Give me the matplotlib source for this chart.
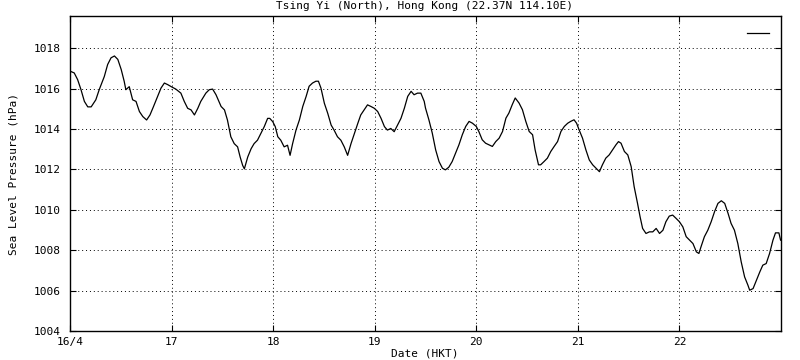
import matplotlib
matplotlib.use("Agg")
import matplotlib.pyplot as plt
import numpy as np

# hours since 16/4 00:00 HKT
hours = [0.0, 1.0, 1.8, 2.6, 3.4, 4.2, 5.0, 6.1, 6.9, 8.1, 8.9, 9.7, 10.5, 11.3, 12.1, 12.8,
         13.2, 14.0, 14.8, 15.6, 16.4, 17.2, 18.1, 18.9, 19.7, 20.7, 21.5, 22.3, 23.1, 24.1,
         25.0, 26.2, 27.0, 27.8, 28.6, 29.4, 30.2, 30.9, 32.1, 32.9, 33.7, 34.5, 35.7, 36.5,
         37.2, 38.0, 38.8, 39.6, 40.2, 40.8, 41.2, 42.0, 42.8, 43.5, 44.3, 45.1, 45.9, 46.7,
         47.2, 47.9, 48.5, 49.1, 49.8, 50.6, 51.4, 52.0, 52.6, 53.4, 54.2, 55.0, 55.8, 56.5,
         57.3, 58.1, 58.7, 59.3, 60.1, 60.9, 61.7, 62.4, 63.2, 64.0, 64.8, 65.6, 66.4, 67.2,
         68.0, 68.7, 69.5, 70.3, 71.1, 71.9, 72.7, 73.5, 74.3, 75.0, 75.8, 76.6, 77.4, 78.2,
         79.0, 79.8, 80.6, 81.3, 82.1, 82.9, 83.7,
         84.0, 84.8, 85.6, 86.4, 87.2, 88.0, 88.7, 89.5, 90.3, 91.1, 91.9, 92.7, 93.5, 94.3,
         95.1, 96.0, 96.6, 97.4, 98.2, 99.0, 99.8, 100.6, 101.4, 102.2, 103.0, 103.7, 104.5,
         105.2, 106.1, 106.9, 107.7, 108.5, 109.3, 109.9, 110.7, 111.2, 112.0, 112.8, 113.6,
         114.4, 115.2, 116.0, 116.8, 117.6, 118.3, 119.1, 119.7, 120.3, 121.1, 121.9, 122.7,
         123.5, 124.3, 125.1, 125.8, 126.6, 127.4, 128.2, 129.0, 129.6, 130.2, 131.0, 131.8,
         132.6, 133.3, 134.1, 134.7, 135.3, 136.1, 136.9, 137.7, 138.5, 139.3, 140.1, 140.8,
         141.6, 142.4, 143.2, 144.0, 144.8, 145.6, 146.4, 147.2, 148.0, 148.6, 149.1, 149.9,
         150.7, 151.5, 152.3, 153.1, 153.9, 154.7, 155.5, 156.2, 157.0, 157.8, 158.6, 159.4,
         160.2, 160.6, 161.4, 162.2, 163.0, 163.7, 164.5, 165.3, 166.1, 166.7, 167.5, 167.9]

pressure = [1016.87, 1016.78, 1016.45, 1015.95, 1015.37, 1015.10, 1015.10, 1015.45, 1015.95,
            1016.60, 1017.20, 1017.53, 1017.62, 1017.45, 1016.95, 1016.37, 1015.95, 1016.10,
            1015.45, 1015.37, 1014.87, 1014.62, 1014.45, 1014.70, 1015.10, 1015.62, 1016.03,
            1016.28, 1016.20, 1016.08, 1015.98, 1015.78, 1015.37, 1015.03, 1014.95, 1014.70,
            1015.03, 1015.37, 1015.78, 1015.95, 1015.98, 1015.70, 1015.12, 1014.95, 1014.45,
            1013.62, 1013.28, 1013.12, 1012.62, 1012.20, 1012.03, 1012.62, 1013.03, 1013.28,
            1013.45, 1013.78, 1014.12, 1014.53, 1014.53, 1014.37, 1014.12, 1013.62, 1013.45,
            1013.12, 1013.20, 1012.70, 1013.28, 1013.95, 1014.45, 1015.12, 1015.62, 1016.12,
            1016.28, 1016.37, 1016.37, 1016.03, 1015.28, 1014.78, 1014.20, 1013.95, 1013.62,
            1013.45, 1013.12, 1012.70, 1013.28, 1013.78, 1014.28, 1014.70, 1014.95, 1015.20,
            1015.12, 1015.03, 1014.87, 1014.53, 1014.12, 1013.95, 1014.03, 1013.87, 1014.20,
            1014.53, 1015.03, 1015.62, 1015.87, 1015.70, 1015.78, 1015.78, 1015.37,
            1015.04, 1014.46, 1013.80, 1012.97, 1012.39, 1012.06, 1011.98, 1012.11, 1012.39,
            1012.80, 1013.22, 1013.72, 1014.13, 1014.38, 1014.29, 1014.13, 1013.88, 1013.47,
            1013.30, 1013.22, 1013.14, 1013.38, 1013.55, 1013.88, 1014.54, 1014.79, 1015.21,
            1015.54, 1015.29, 1014.96, 1014.38, 1013.88, 1013.72, 1012.97, 1012.23, 1012.23,
            1012.39, 1012.56, 1012.89, 1013.14, 1013.38, 1013.88, 1014.13, 1014.29, 1014.38,
            1014.46, 1014.29, 1013.96, 1013.55, 1012.97, 1012.47, 1012.23, 1012.06, 1011.89,
            1012.23, 1012.56, 1012.72, 1012.97, 1013.22, 1013.38, 1013.30, 1012.89, 1012.72,
            1012.14, 1011.15, 1010.32, 1009.66, 1009.08, 1008.83, 1008.91, 1008.91, 1009.08,
            1008.83, 1008.99, 1009.41, 1009.69, 1009.74, 1009.58, 1009.41, 1009.16, 1008.67,
            1008.50, 1008.33, 1007.92, 1007.84, 1008.17, 1008.67, 1008.99, 1009.41, 1009.91,
            1010.32, 1010.45, 1010.32, 1009.82, 1009.33, 1008.99, 1008.33, 1007.42, 1006.68,
            1006.26, 1006.02, 1006.10, 1006.51, 1006.93, 1007.26, 1007.34, 1007.84, 1008.50,
            1008.86, 1008.86, 1008.50]

xtick_days = [16, 17, 18, 19, 20, 21, 22]
xtick_labels = ["16/4", "17", "18", "19", "20", "21", "22"]
ytick_vals = [1004, 1006, 1008, 1010, 1012, 1014, 1016, 1018]

title = "Tsing Yi (North), Hong Kong (22.37N 114.10E)"
xlabel = "Date (HKT)"
ylabel = "Sea Level Pressure (hPa)"

FONT = "DejaVu Sans Mono"
FS = 8

fig = plt.figure(figsize=(8, 3.6), dpi=100)
ax = fig.add_axes([70 / 800, 29 / 360, 711 / 800, 315 / 360])

days = 16 + np.array(hours) / 24.0
ax.plot(days, pressure, color="black", lw=0.9, label=" ")

ax.set_xlim(16, 23)
ax.set_ylim(1004, 1019.6)
ax.set_xticks(xtick_days)
ax.set_xticklabels(xtick_labels, fontfamily=FONT, fontsize=FS)
ax.set_yticks(ytick_vals)
ax.set_yticklabels([str(v) for v in ytick_vals], fontfamily=FONT, fontsize=FS)

ax.tick_params(direction="in", length=4, width=0.8, top=True, right=True,
               colors="black")
ax.tick_params(axis="y", pad=7)
ax.tick_params(axis="x", pad=4)
ax.grid(True, color="black", linestyle=(0, (1, 3)), linewidth=0.7)
for s in ax.spines.values():
    s.set_linewidth(1.0)
    s.set_color("black")

leg = ax.legend(loc="upper right", bbox_to_anchor=(1.0098, 0.987), frameon=False,
                handlelength=2.0, handletextpad=0.3, borderaxespad=0.4,
                prop={"family": FONT, "size": FS})

fig.text(425 / 800, 1 - 6 / 360, title, ha="center", va="center",
         fontfamily=FONT, fontsize=FS)
fig.text(425 / 800, 1 - 353 / 360, xlabel, ha="center", va="center",
         fontfamily=FONT, fontsize=FS)
fig.text(14 / 800, 1 - 174 / 360, ylabel, ha="center", va="center", rotation=90,
         fontfamily=FONT, fontsize=FS)

fig.savefig("out.png", dpi=100, facecolor="white")
